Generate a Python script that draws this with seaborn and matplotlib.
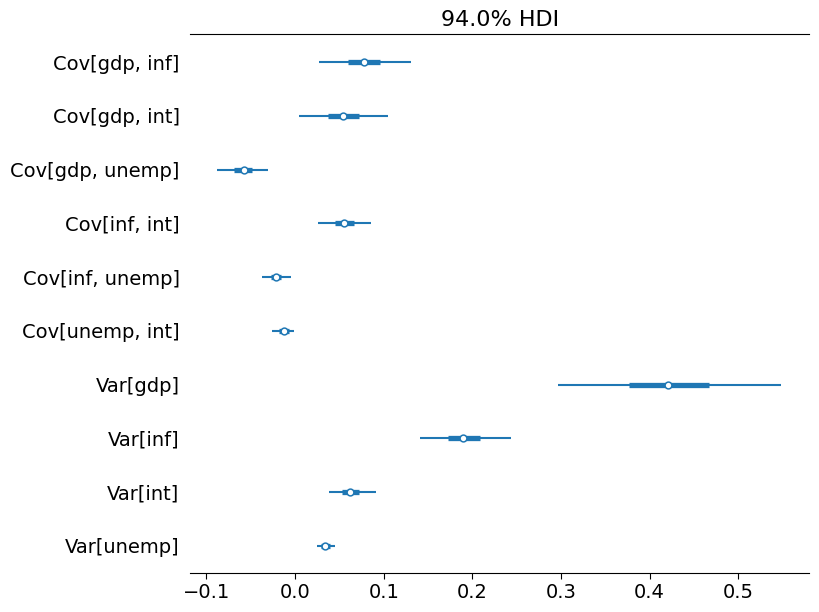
import numpy as np
import pandas as pd
import matplotlib
matplotlib.use("Agg")
import matplotlib.pyplot as plt
import seaborn as sns

# Valores (forest plot, HDI 94% e 50%)
parametros = ['Cov[gdp, inf]', 'Cov[gdp, int]', 'Cov[gdp, unemp]', 'Cov[inf, int]',
              'Cov[inf, unemp]', 'Cov[unemp, int]', 'Var[gdp]', 'Var[inf]',
              'Var[int]', 'Var[unemp]']
mediana = [0.078, 0.054, -0.058, 0.055, -0.021, -0.012, 0.421, 0.190, 0.062, 0.034]
hdi94_min = [0.027, 0.005, -0.088, 0.026, -0.037, -0.026, 0.297, 0.141, 0.038, 0.025]
hdi94_max = [0.131, 0.105, -0.031, 0.086, -0.005, -0.001, 0.548, 0.244, 0.091, 0.045]
hdi50_min = [0.060, 0.037, -0.069, 0.045, -0.027, -0.018, 0.377, 0.173, 0.053, 0.029]
hdi50_max = [0.096, 0.072, -0.049, 0.067, -0.016, -0.007, 0.467, 0.209, 0.072, 0.039]

df = pd.DataFrame({
    'Parametro': parametros,
    'pos': np.arange(len(parametros)),
    'Mediana': mediana,
    'min94': hdi94_min,
    'max94': hdi94_max,
    'min50': hdi50_min,
    'max50': hdi50_max,
})

cor = '#1f77b4'

fig, ax = plt.subplots(figsize=(8.19, 6.12), dpi=100)
fig.subplots_adjust(left=0.232, right=0.988, top=0.944, bottom=0.064)

ax.hlines(df['pos'], df['min94'], df['max94'], color=cor, linewidth=1.5, zorder=2)
ax.hlines(df['pos'], df['min50'], df['max50'], color=cor, linewidth=3.8, zorder=3)
sns.scatterplot(data=df, x='Mediana', y='pos', ax=ax, marker='o', s=24,
                facecolor='white', edgecolor=cor, linewidth=1.1, zorder=4)

ax.set_yticks(df['pos'])
ax.set_yticklabels(parametros)
ax.set_ylim(len(parametros) - 0.5, -0.52)
ax.set_xlim(-0.1185, 0.580)
ax.set_xticks([-0.1, 0.0, 0.1, 0.2, 0.3, 0.4, 0.5])
ax.set_xlabel('')
ax.set_ylabel('')
ax.set_title('94.0% HDI', fontsize=16)
ax.tick_params(axis='both', labelsize=14)
ax.tick_params(axis='y', length=0, pad=7.5)
ax.tick_params(axis='x', length=4)

ax.spines['left'].set_visible(False)
ax.spines['right'].set_visible(False)

plt.savefig('out.png', dpi=100)
